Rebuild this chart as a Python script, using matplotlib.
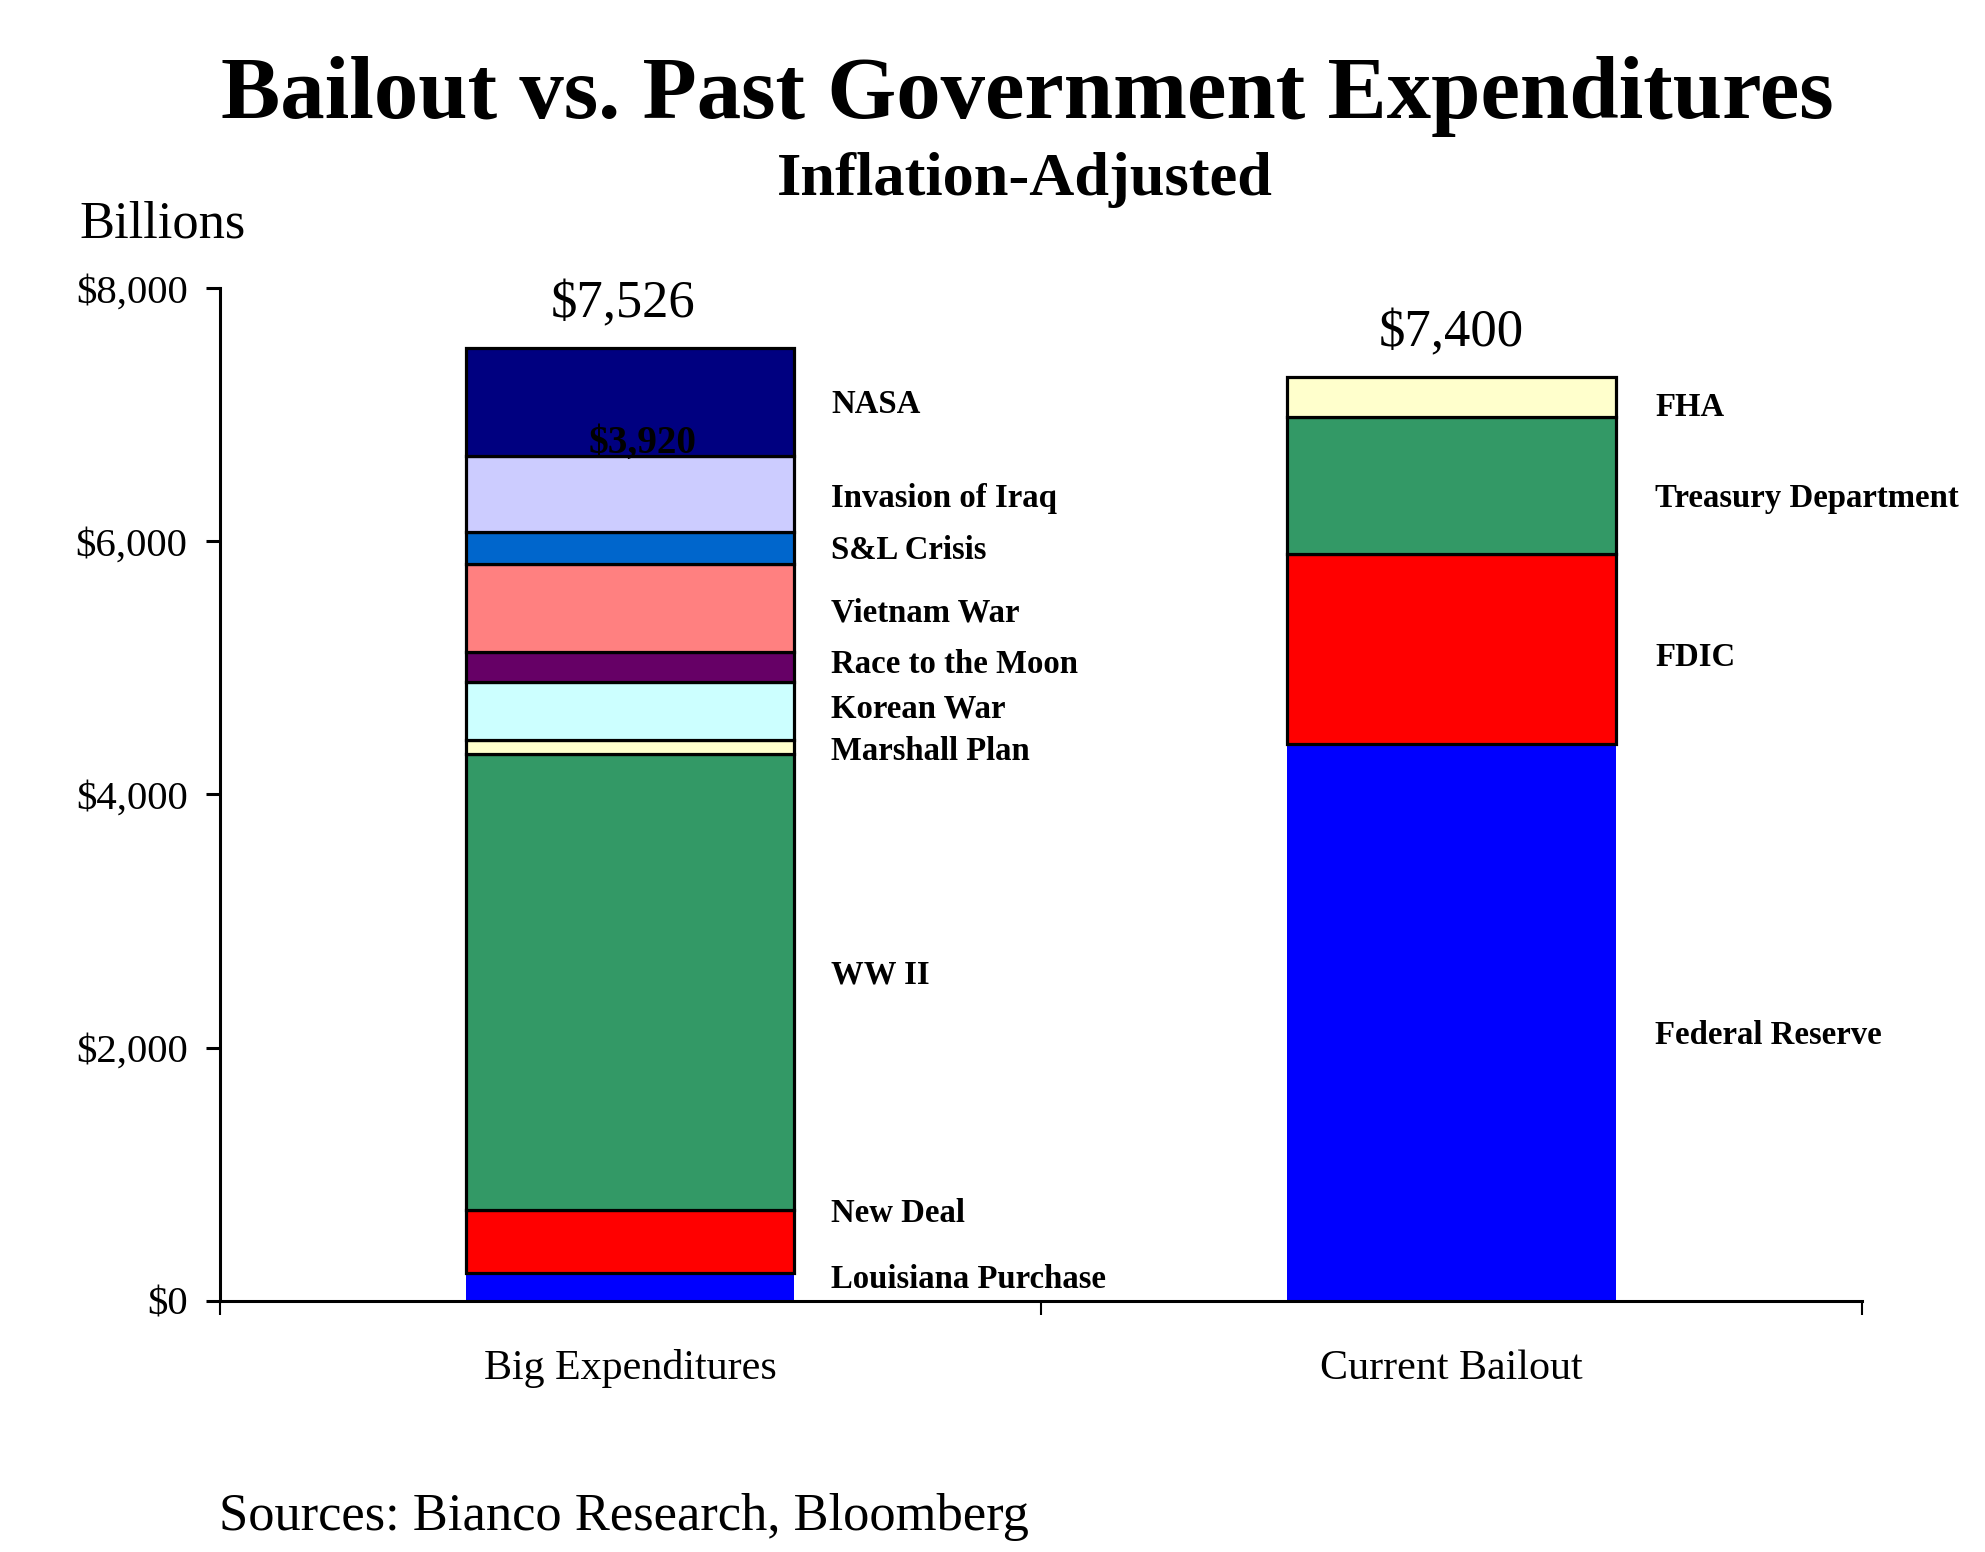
import matplotlib
matplotlib.use('Agg')
import matplotlib.pyplot as plt
from matplotlib.font_manager import FontProperties
from matplotlib.textpath import TextPath

W, H, DPI = 1985, 1552, 100
SERIF = 'Liberation Serif'

# ---------------- data ----------------
categories = ['Big Expenditures', 'Current Bailout']
past_items = ['Louisiana Purchase', 'New Deal', 'WW II', 'Marshall Plan', 'Korean War',
              'Race to the Moon', 'Vietnam War', 'S&L Crisis', 'Invasion of Iraq', 'NASA']
past_values = [217, 500, 3600, 115.3, 454, 237, 698, 256, 597, 851.2]
bailout_items = ['Federal Reserve', 'FDIC', 'Treasury Department', 'FHA']
bailout_values = [4400, 1500, 1085, 315]
total_labels = ['$7,526', '$7,400']
partial_label = '$3,920'
yticks = [0, 2000, 4000, 6000, 8000]
ytick_labels = ['$0', '$2,000', '$4,000', '$6,000', '$8,000']

# ---------------- styles ----------------
past_colors = ['#0000FF', '#FF0000', '#339966', '#FFFFCC', '#CCFFFF',
               '#660066', '#FF8080', '#0066CC', '#CCCCFF', '#000080']
bailout_colors = ['#0000FF', '#FF0000', '#339966', '#FFFFCC']
# label baselines (pixels from top)
past_label_y = [1288, 1222, 983, 760, 717, 673, 621, 559, 507, 413]
bailout_label_y = [1044, 666, 507, 416]
past_label_x = 831
bailout_label_x = 1655
total_offsets_pt = [(-5, 22), (0, 22)]


def fit(s, target_px, weight='normal'):
    fp = FontProperties(family=SERIF, weight=weight, size=100)
    w = TextPath((0, 0), s, prop=fp).get_extents().width
    return 100 * target_px * 72 / (w * DPI)


def P(x, y):
    return x / W, 1 - y / H


fig = plt.figure(figsize=(W / DPI, H / DPI), dpi=DPI)
ax_left, ax_right = 219.5, 1862
ax_top, ax_bot = 288.3, 1300.6
ax = fig.add_axes([ax_left / W, 1 - ax_bot / H, (ax_right - ax_left) / W, (ax_bot - ax_top) / H])

bar_w = 0.4
lw = 2.3


def stack(xpos, values, colors):
    bottom = 0
    for v, c in zip(values, colors):
        ec = 'none' if c == '#0000FF' else 'black'
        ax.bar(xpos, v, bottom=bottom, width=bar_w, color=c, edgecolor=ec,
               linewidth=lw, zorder=3)
        bottom += v
    return bottom


tot0 = stack(0, past_values, past_colors)
tot1 = stack(1, bailout_values, bailout_colors)

ax.set_xlim(-0.5, 1.5)
ax.set_ylim(0, 8000)
for s in ['top', 'right']:
    ax.spines[s].set_visible(False)
for s in ['left', 'bottom']:
    ax.spines[s].set_linewidth(2.2)
    ax.spines[s].set_zorder(4)

ytick_fs = fit('$8,000', 109)
ax.set_yticks(yticks)
ax.set_yticklabels(ytick_labels, fontsize=ytick_fs, family=SERIF)
ax.tick_params(axis='y', direction='out', length=10, width=2.2, pad=13)

ax.set_xticks([-0.5, 0.5, 1.5])
ax.set_xticklabels([])
ax.tick_params(axis='x', which='major', direction='out', length=10, width=1.5)
ax.set_xticks([0, 1], minor=True)
xfs = fit('Big Expenditures', 290)
ax.set_xticklabels(categories, minor=True, fontsize=xfs, family=SERIF)
ax.tick_params(axis='x', which='minor', length=0, pad=35)

# totals above bars
tfs = fit('$7,526', 141)
for i, (lab, tot) in enumerate(zip(total_labels, [tot0, tot1])):
    ax.annotate(lab, xy=(i, tot), xytext=total_offsets_pt[i], textcoords='offset points',
                ha='center', va='baseline', fontsize=tfs, family=SERIF)

# segment labels
lfs = fit('Treasury Department', 303, 'bold')
for name, y in zip(past_items, past_label_y):
    fig.text(*P(past_label_x, y), name, ha='left', va='baseline',
             fontsize=lfs, family=SERIF, weight='bold')
for name, y in zip(bailout_items, bailout_label_y):
    fig.text(*P(bailout_label_x, y), name, ha='left', va='baseline',
             fontsize=lfs, family=SERIF, weight='bold')

fig.text(*P(643, 453), partial_label, ha='center', va='baseline',
         fontsize=fit(partial_label, 105, 'bold'), family=SERIF, weight='bold', zorder=5)

# titles & annotations
fig.text(*P(1027, 118), 'Bailout vs. Past Government Expenditures', ha='center', va='baseline',
         fontsize=fit('Bailout vs. Past Government Expenditures', 1609, 'bold'),
         family=SERIF, weight='bold')
fig.text(*P(1025, 195), 'Inflation-Adjusted', ha='center', va='baseline',
         fontsize=fit('Inflation-Adjusted', 493, 'bold'), family=SERIF, weight='bold')
fig.text(*P(79, 238), 'Billions', ha='left', va='baseline',
         fontsize=fit('Billions', 163), family=SERIF)
fig.text(*P(219, 1530), 'Sources: Bianco Research, Bloomberg', ha='left', va='baseline',
         fontsize=fit('Sources: Bianco Research, Bloomberg', 806), family=SERIF)

fig.savefig('out.png', dpi=DPI, facecolor='white')
